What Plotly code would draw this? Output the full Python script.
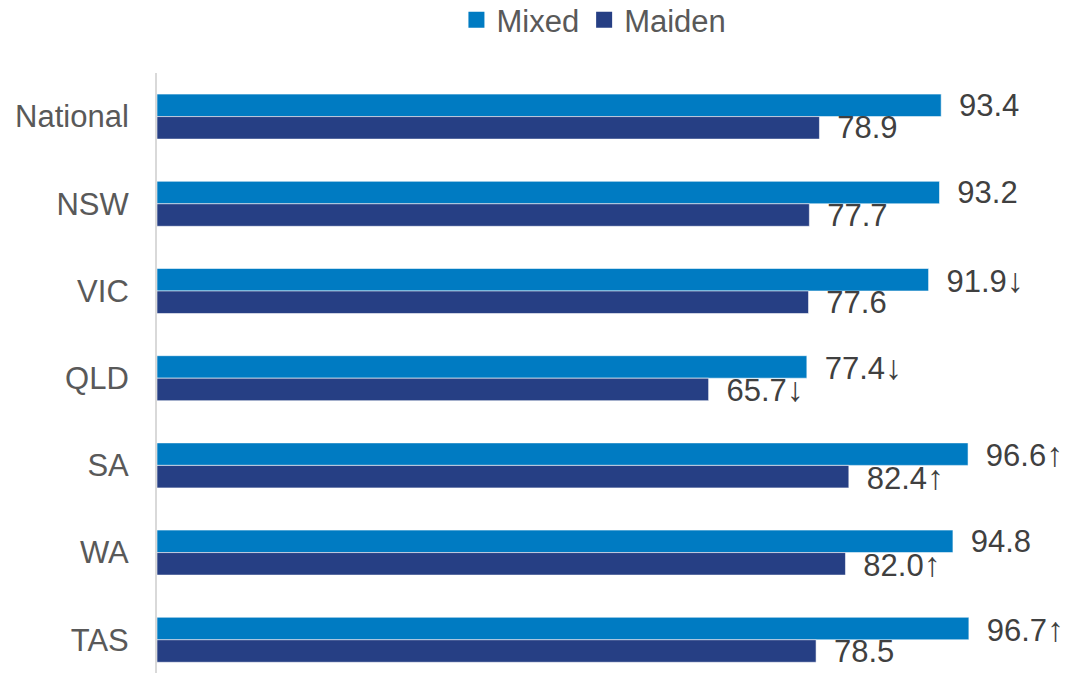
import plotly.graph_objects as go

categories = ["National", "NSW", "VIC", "QLD", "SA", "WA", "TAS"]
mixed = [93.4, 93.2, 91.9, 77.4, 96.6, 94.8, 96.7]
maiden = [78.9, 77.7, 77.6, 65.7, 82.4, 82.0, 78.5]
mixed_trend = ["", "", "↓", "↓", "↑", "", "↑"]
maiden_trend = ["", "", "", "↓", "↑", "↑", ""]

MIXED_C = "#007BC2"
MAIDEN_C = "#263F84"
FONT = "Liberation Sans, Arial, sans-serif"
PAD = "\u2009\u00a0"


def label(v, t):
    s = PAD + f"{v:.1f}"
    if t:
        s += "<span style='font-size:34px'>" + t + "</span>"
    return s


mixed_text = [label(v, t) for v, t in zip(mixed, mixed_trend)]
maiden_text = [label(v, t) for v, t in zip(maiden, maiden_trend)]

fig = go.Figure()
fig.add_trace(go.Bar(
    y=categories, x=mixed, orientation="h", name="Mixed",
    marker=dict(color=MIXED_C, line=dict(color="rgba(255,255,255,0.55)", width=1)),
    text=mixed_text, textposition="outside", constraintext="none", cliponaxis=False,
    textfont=dict(size=31, color="#404040", family=FONT), showlegend=False,
))
fig.add_trace(go.Bar(
    y=categories, x=maiden, orientation="h", name="Maiden",
    marker=dict(color=MAIDEN_C, line=dict(color="rgba(255,255,255,0.55)", width=1)),
    text=maiden_text, textposition="outside", constraintext="none", cliponaxis=False,
    textfont=dict(size=31, color="#404040", family=FONT), showlegend=False,
))
# legend entries with larger square markers
for name, col in [("Mixed", MIXED_C), ("Maiden", MAIDEN_C)]:
    fig.add_trace(go.Scatter(
        x=[None], y=[None], mode="markers", name=name,
        marker=dict(symbol="square", size=16, color=col),
    ))

fig.update_layout(
    width=1065, height=665,
    margin=dict(l=149, r=0, t=65, b=0, autoexpand=False),
    paper_bgcolor="white", plot_bgcolor="white",
    barmode="group", bargap=0.484, bargroupgap=0,
    font=dict(family=FONT, size=31, color="#595959"),
    legend=dict(orientation="h", x=0.477, xanchor="center", y=1.088, yanchor="middle",
                font=dict(size=31, color="#595959"),
                itemwidth=30, tracegroupgap=0, bgcolor="rgba(0,0,0,0)"),
    xaxis=dict(range=[0, 109.1], visible=False, showgrid=False, zeroline=False,
               automargin=False),
    yaxis=dict(type="category", categoryorder="array", categoryarray=categories,
               range=[6.381, -0.5], showline=True, linecolor="#D9D9D9", linewidth=2,
               showgrid=False, zeroline=False, ticks="", ticklabelstandoff=20,
               automargin=False,
               tickfont=dict(size=31, color="#595959", family=FONT)),
)

fig.write_html("out.html")
